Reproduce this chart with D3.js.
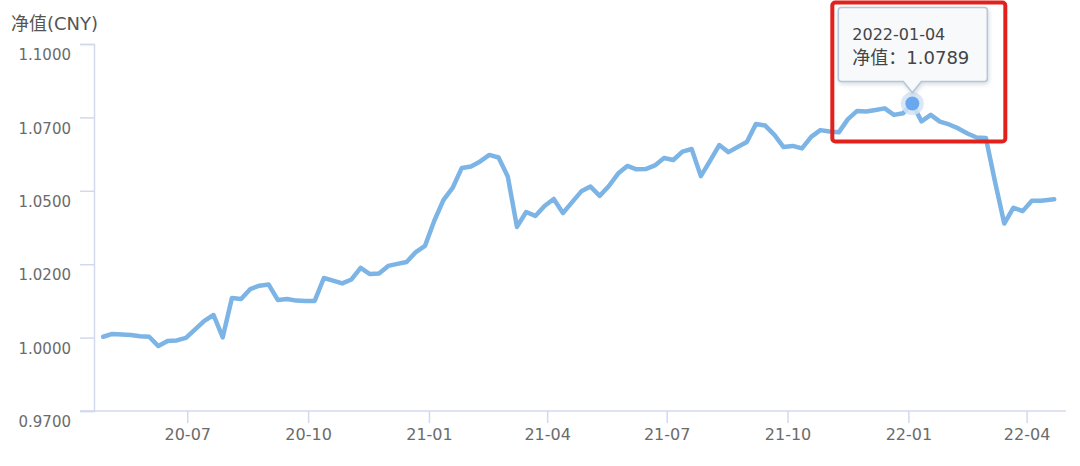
<!DOCTYPE html>
<html>
<head>
<meta charset="utf-8">
<script src="https://cdn.jsdelivr.net/npm/d3@7/dist/d3.min.js"></script>
<style>
	body { margin: 0; background: #ffffff; }
	svg text { font-family: "DejaVu Sans", "Noto Sans CJK SC", sans-serif; }
	.axis path, .axis line { stroke: #d3d9ec; stroke-width: 1.5px; }
	.axis text { fill: #6b6b6b; }
</style>
</head>
<body>
<div id="chart"></div>
<script>
///////////////////////////////////////////////////////////////////////////
///////////////////////////////// Data ////////////////////////////////////
///////////////////////////////////////////////////////////////////////////

var dates = [
	"2020-04-28","2020-05-05","2020-05-12","2020-05-19","2020-05-26","2020-06-02","2020-06-09","2020-06-16","2020-06-23","2020-06-30",
	"2020-07-07","2020-07-14","2020-07-21","2020-07-28","2020-08-04","2020-08-11","2020-08-18","2020-08-25","2020-09-01","2020-09-08",
	"2020-09-15","2020-09-22","2020-09-29","2020-10-06","2020-10-13","2020-10-20","2020-10-27","2020-11-03","2020-11-10","2020-11-17",
	"2020-11-24","2020-12-01","2020-12-08","2020-12-15","2020-12-22","2020-12-29","2021-01-05","2021-01-12","2021-01-19","2021-01-26",
	"2021-02-02","2021-02-09","2021-02-16","2021-02-23","2021-03-02","2021-03-09","2021-03-16","2021-03-23","2021-03-30","2021-04-06",
	"2021-04-13","2021-04-20","2021-04-27","2021-05-04","2021-05-11","2021-05-18","2021-05-25","2021-06-01","2021-06-08","2021-06-15",
	"2021-06-22","2021-06-29","2021-07-06","2021-07-13","2021-07-20","2021-07-27","2021-08-03","2021-08-10","2021-08-17","2021-08-24",
	"2021-08-31","2021-09-07","2021-09-14","2021-09-21","2021-09-28","2021-10-05","2021-10-12","2021-10-19","2021-10-26","2021-11-02",
	"2021-11-09","2021-11-16","2021-11-23","2021-11-30","2021-12-07","2021-12-14","2021-12-21","2021-12-28","2022-01-04","2022-01-11",
	"2022-01-18","2022-01-25","2022-02-01","2022-02-08","2022-02-15","2022-02-22","2022-03-01","2022-03-08","2022-03-15","2022-03-22",
	"2022-03-29","2022-04-05","2022-04-12","2022-04-22"
];

var navValues = [
	0.9963, 0.9973, 0.9971, 0.9969, 0.9965, 0.9963, 0.9930, 0.9948, 0.9950, 0.9959,
	0.9989, 1.0019, 1.0040, 0.9961, 1.0100, 1.0097, 1.0132, 1.0144, 1.0148, 1.0093,
	1.0097, 1.0091, 1.0090, 1.0090, 1.0171, 1.0162, 1.0152, 1.0166, 1.0207, 1.0185,
	1.0187, 1.0214, 1.0221, 1.0228, 1.0263, 1.0285, 1.0373, 1.0447, 1.0490, 1.0561,
	1.0566, 1.0584, 1.0607, 1.0598, 1.0531, 1.0352, 1.0405, 1.0391, 1.0426, 1.0451,
	1.0401, 1.0440, 1.0478, 1.0495, 1.0462, 1.0497, 1.0541, 1.0568, 1.0556, 1.0557,
	1.0570, 1.0596, 1.0589, 1.0619, 1.0628, 1.0532, 1.0586, 1.0642, 1.0617, 1.0635,
	1.0653, 1.0717, 1.0711, 1.0678, 1.0635, 1.0639, 1.0630, 1.0671, 1.0695, 1.0690,
	1.0687, 1.0734, 1.0763, 1.0761, 1.0766, 1.0772, 1.0749, 1.0755, 1.0789, 1.0726,
	1.0749, 1.0725, 1.0715, 1.0701, 1.0683, 1.0669, 1.0667, 1.0511, 1.0364, 1.0420,
	1.0408, 1.0445, 1.0445, 1.0450
];

var xTicks = ["2020-07-01","2020-10-01","2021-01-01","2021-04-01","2021-07-01","2021-10-01","2022-01-01","2022-04-01"];
var yTicks = [0.97, 0.996, 1.022, 1.048, 1.074, 1.1];
var yTickLabels = ["0.9700", "1.0000", "1.0200", "1.0500", "1.0700", "1.1000"];

var highlightDate = "2022-01-04";

///////////////////////////////////////////////////////////////////////////
/////////////////////////////// Set-up SVG ////////////////////////////////
///////////////////////////////////////////////////////////////////////////

var width = 1080;
var height = 466;
var parseDate = d3.utcParse("%Y-%m-%d");

var svg = d3.select("#chart")
	.append("svg")
	.attr("width", width)
	.attr("height", height);

var data = dates.map(function(d, i) { return { date: parseDate(d), key: d, value: navValues[i] }; });

var x = d3.scaleUtc()
	.domain([parseDate("2020-04-21"), parseDate("2022-05-01")])
	.range([94, 1066]);

var y = d3.scaleLinear()
	.domain([0.97, 1.1])
	.range([411, 44]);

///////////////////////////////////////////////////////////////////////////
////////////////////////////////// Axes ///////////////////////////////////
///////////////////////////////////////////////////////////////////////////

var xAxis = svg.append("g")
	.attr("class", "axis")
	.attr("transform", "translate(0," + y(0.97) + ")")
	.call(d3.axisBottom(x)
		.tickValues(xTicks.map(parseDate))
		.tickSizeOuter(0)
		.tickSize(12)
		.tickPadding(6)
		.tickFormat(d3.utcFormat("%y-%m")));
xAxis.select(".domain").attr("d", "M80,0H1066");
xAxis.selectAll("text").style("font-size", "16px");

var yAxis = svg.append("g")
	.attr("class", "axis")
	.attr("transform", "translate(" + x.range()[0] + ",0)")
	.call(d3.axisLeft(y)
		.tickValues(yTicks)
		.tickSizeOuter(0)
		.tickSize(14)
		.tickPadding(9)
		.tickFormat(function(d, i) { return yTickLabels[i]; }));
yAxis.selectAll("text")
	.style("font-size", "15px")
	.attr("dy", "1.05em");

svg.append("text")
	.attr("x", 11)
	.attr("y", 30)
	.style("font-size", "18px")
	.style("fill", "#555555")
	.text("净值(CNY)");

///////////////////////////////////////////////////////////////////////////
////////////////////////////////// Line ///////////////////////////////////
///////////////////////////////////////////////////////////////////////////

var line = d3.line()
	.x(function(d) { return x(d.date); })
	.y(function(d) { return y(d.value); });

svg.append("path")
	.datum(data)
	.attr("d", line)
	.style("fill", "none")
	.style("stroke", "#7cb4e6")
	.style("stroke-width", 4.5)
	.style("stroke-linejoin", "round")
	.style("stroke-linecap", "round");

///////////////////////////////////////////////////////////////////////////
///////////////////////////////// Tooltip /////////////////////////////////
///////////////////////////////////////////////////////////////////////////

var hp = data.filter(function(d) { return d.key === highlightDate; })[0];
var px = x(hp.date), py = y(hp.value);

svg.append("circle")
	.attr("cx", px).attr("cy", py).attr("r", 11.5)
	.style("fill", "#d3e3f4")
	.style("opacity", 0.85);
svg.append("circle")
	.attr("cx", px).attr("cy", py).attr("r", 7)
	.style("fill", "#6aa8ee");

var defs = svg.append("defs");
var shadow = defs.append("filter").attr("id", "tipShadow")
	.attr("x", "-20%").attr("y", "-20%").attr("width", "140%").attr("height", "150%");
shadow.append("feDropShadow")
	.attr("dx", 1).attr("dy", 2).attr("stdDeviation", 2)
	.attr("flood-color", "#8a99aa").attr("flood-opacity", 0.35);

var tip = svg.append("g").attr("transform", "translate(" + px + "," + py + ")");

var bx0 = -74, bx1 = 75, by0 = -96, by1 = -22;
tip.append("path")
	.attr("d", "M" + (bx0 + 3) + "," + by0 + "H" + (bx1 - 3) + "Q" + bx1 + "," + by0 + " " + bx1 + "," + (by0 + 3) +
		"V" + (by1 - 3) + "Q" + bx1 + "," + by1 + " " + (bx1 - 3) + "," + by1 +
		"H9L0,-11L-9," + by1 + "H" + (bx0 + 3) + "Q" + bx0 + "," + by1 + " " + bx0 + "," + (by1 - 3) +
		"V" + (by0 + 3) + "Q" + bx0 + "," + by0 + " " + (bx0 + 3) + "," + by0 + "Z")
	.style("fill", "#f7f9fb")
	.style("stroke", "#b5c6d8")
	.style("stroke-width", 1.5)
	.attr("filter", "url(#tipShadow)");

tip.append("text")
	.attr("x", bx0 + 14)
	.attr("y", -64)
	.style("font-size", "16px")
	.style("fill", "#444444")
	.text(hp.key);

tip.append("text")
	.attr("x", bx0 + 14)
	.attr("y", -40)
	.style("font-size", "18px")
	.style("fill", "#444444")
	.text("净值：" + d3.format(".4f")(hp.value));

// red annotation frame round the tooltip
svg.append("rect")
	.attr("x", px - 80)
	.attr("y", py - 101)
	.attr("width", 173)
	.attr("height", 139)
	.attr("rx", 3)
	.style("fill", "none")
	.style("stroke", "#e3211c")
	.style("stroke-width", 4);
</script>
</body>
</html>
